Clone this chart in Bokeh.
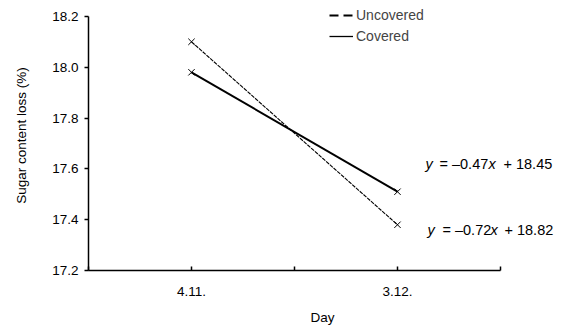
from bokeh.plotting import figure
from bokeh.models import Label, Legend, LegendItem, FixedTicker, Range1d
from bokeh.embed import file_html
from bokeh.resources import INLINE

days = ["4.11.", "3.12."]
day_pos = [1, 2]
uncovered = [18.10, 17.38]
covered = [17.98, 17.51]
eq_uncovered = ["y", "= \u20130.72", "x", "+ 18.82"]
eq_covered = ["y", "= \u20130.47", "x", "+ 18.45"]
y_ticks = [17.2, 17.4, 17.6, 17.8, 18.0, 18.2]
x_ticks = [0.5, 1, 1.5, 2, 2.5]

FONT = "Liberation Sans"

p = figure(width=562, height=327, output_backend="svg", toolbar_location=None,
           x_range=Range1d(0.5, 2.772), y_range=Range1d(17.2, 18.2625),
           min_border_left=88, min_border_right=6, min_border_top=0, min_border_bottom=55)
p.outline_line_color = None
p.grid.visible = False
p.background_fill_color = "white"
p.border_fill_color = "white"

# series
p.line(day_pos, uncovered, line_color="black", line_width=1.1, line_dash="4 1")
p.scatter(day_pos, uncovered, marker="x", size=9, line_color="black", line_width=1)
p.line(day_pos, covered, line_color="black", line_width=2)
p.scatter(day_pos, covered, marker="x", size=9, line_color="black", line_width=1)

# legend proxies (drawn off-range so only their legend glyphs show)
off_x = [-5, -4]
off_y = [0, 0]
l_unc = p.line(off_x, off_y, line_color="black", line_width=2, line_dash="9 5")
l_cov = p.line(off_x, off_y, line_color="black", line_width=1.3)
legend = Legend(items=[LegendItem(label="Uncovered", renderers=[l_unc]),
                       LegendItem(label="Covered", renderers=[l_cov])],
                location=(241, 226), border_line_color=None, background_fill_alpha=0,
                padding=0, margin=0, spacing=5, glyph_width=24, glyph_height=12,
                label_height=12, label_standoff=3,
                label_text_font=FONT, label_text_font_size="14px")
p.add_layout(legend, "center")

# axes
xa = p.xaxis[0]
xa.bounds = (0.5, 2.5)
xa.ticker = FixedTicker(ticks=x_ticks)
xa.major_label_overrides = {1: days[0], 2: days[1], 0.5: "", 1.5: "", 2.5: ""}
xa.major_tick_in = 4
xa.major_tick_out = 0
xa.minor_tick_line_color = None
xa.major_label_standoff = 16
xa.axis_label = "Day"
xa.axis_label_standoff = 11
ya = p.yaxis[0]
ya.bounds = (17.2, 18.2)
ya.ticker = FixedTicker(ticks=y_ticks)
ya.major_label_overrides = {t: f"{t:.1f}" for t in y_ticks}
ya.major_tick_in = 0
ya.major_tick_out = 4
ya.minor_tick_line_color = None
ya.major_label_standoff = 6
ya.axis_label = "Sugar content loss (%)"
ya.axis_label_standoff = 20
for ax in (xa, ya):
    ax.axis_line_width = 1.5
    ax.axis_line_color = "black"
    ax.major_tick_line_color = "black"
    ax.major_tick_line_width = 1.5
    ax.major_label_text_font = FONT
    ax.major_label_text_font_size = "13.5px"
    ax.major_label_text_color = "black"
    ax.axis_label_text_font = FONT
    ax.axis_label_text_font_size = "13.5px"
    ax.axis_label_text_font_style = "normal"
    ax.axis_label_text_color = "black"

# equations
def add_eq(parts, yval, xoffs, yoff):
    for part, xo in zip(parts, xoffs):
        style = "italic" if part in ("x", "y") else "normal"
        p.add_layout(Label(x=day_pos[1], y=yval, text=part, x_offset=xo, y_offset=yoff,
                           text_font=FONT, text_font_size="14.5px", text_font_style=style,
                           text_baseline="middle", text_align="left", text_color="black"))

add_eq(eq_covered, covered[1], [28, 42, 91, 106], 28)
add_eq(eq_uncovered, uncovered[1], [30, 45, 93, 107], -5)

open("out.html", "w").write(file_html(p, INLINE))
